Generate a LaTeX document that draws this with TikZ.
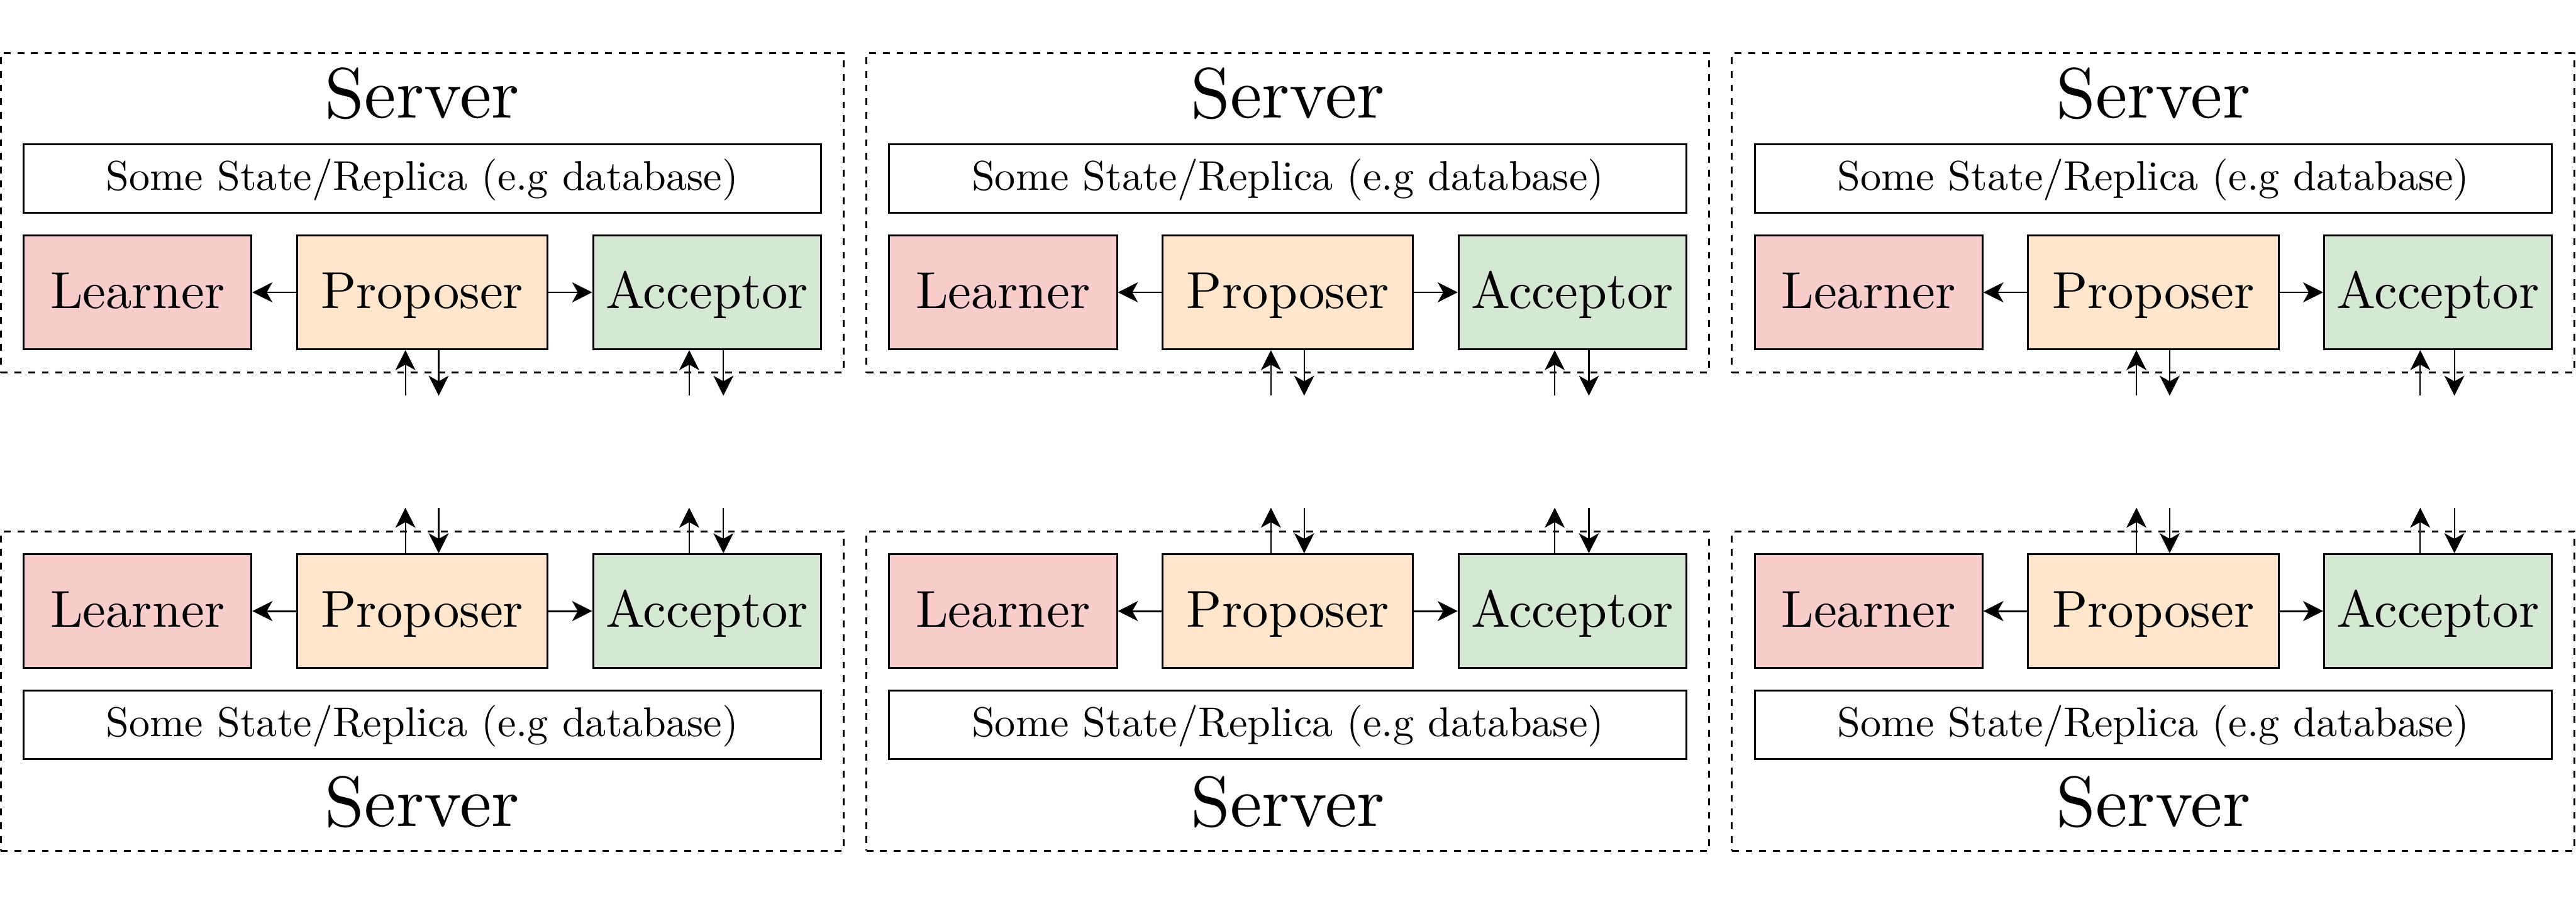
\documentclass[tikz,border=0pt]{standalone}
\usepackage{fontspec}
\setmainfont{lmroman10-regular.otf}
\usetikzlibrary{arrows.meta,positioning}
\definecolor{learnerred}{HTML}{F8CECC}
\definecolor{proposerorange}{HTML}{FFE6CC}
\definecolor{acceptorgreen}{HTML}{D5E8D4}

\begin{document}
\begin{tikzpicture}[>={Stealth[length=12.5pt,width=12.5pt,inset=3.5pt]},node distance=6.25cm,on grid]
\tikzset{role/.style={draw,line width=1.15pt,minimum width=5cm,minimum height=2.5cm,inner sep=0pt,text height=0.95cm,text depth=0.24cm,font=\fontsize{32.5}{36}\selectfont}}
\tikzset{replica/.style={draw,line width=1.15pt,minimum width=17.5cm,minimum height=1.51cm,inner sep=0pt,text height=0.7cm,text depth=0.19cm,font=\fontsize{26}{30}\selectfont}}
\tikzset{serverbox/.style={draw,dash pattern=on 0.15cm off 0.15cm,line width=1.15pt,minimum width=18.5cm,minimum height=7.01cm,inner sep=0pt}}
\tikzset{servertitle/.style={inner sep=0pt,font=\fontsize{44.5}{50}\selectfont}}
\tikzset{mystyle/.style={->,line width=1.15pt}}
\tikzset{iostyle/.style={->,line width=0.9pt}}
\useasboundingbox (0,0) rectangle (56.55,-19.85);
\foreach \i in {0,1,2} {
  \node[role,fill=proposerorange,minimum width=5.5cm] (Pt\i) at (19*\i+9.27,-6.42) {Proposer};
  \node[role,fill=learnerred]     (Lt\i) [left =of Pt\i]        {Learner};
  \node[role,fill=acceptorgreen]  (At\i) [right =of Pt\i]       {Acceptor};
  \node[replica]                  (Rt\i) [above =2.5cm of Pt\i] {Some State/Replica (e.g database)};
  \node[servertitle]              (Tt\i) [above =1.86cm of Rt\i] {Server};
  \node[serverbox]                (St\i) at (19*\i+9.27,-4.675) {};
  \node[role,fill=proposerorange,minimum width=5.5cm] (Pb\i) at (19*\i+9.27,-13.42) {Proposer};
  \node[role,fill=learnerred]     (Lb\i) [left =of Pb\i]        {Learner};
  \node[role,fill=acceptorgreen]  (Ab\i) [right =of Pb\i]       {Acceptor};
  \node[replica]                  (Rb\i) [below =2.5cm of Pb\i] {Some State/Replica (e.g database)};
  \node[servertitle]              (Tb\i) [below =1.69cm of Rb\i] {Server};
  \node[serverbox]                (Sb\i) at (19*\i+9.27,-15.175) {};
  \path (Pt\i) edge [mystyle] (Lt\i)
        (Pt\i) edge [mystyle] (At\i)
        (Pb\i) edge [mystyle] (Lb\i)
        (Pb\i) edge [mystyle] (Ab\i);
  \coordinate (ptin\i)  at ([xshift=-3.7mm,yshift=-1cm]Pt\i.south);
  \coordinate (ptout\i) at ([xshift=3.6mm,yshift=-1cm]Pt\i.south);
  \coordinate (atin\i)  at ([xshift=-3.9mm,yshift=-1cm]At\i.south);
  \coordinate (atout\i) at ([xshift=3.6mm,yshift=-1cm]At\i.south);
  \coordinate (pbout\i) at ([xshift=-3.7mm,yshift=1cm]Pb\i.north);
  \coordinate (pbin\i)  at ([xshift=3.6mm,yshift=1cm]Pb\i.north);
  \coordinate (about\i) at ([xshift=-3.9mm,yshift=1cm]Ab\i.north);
  \coordinate (abin\i)  at ([xshift=3.6mm,yshift=1cm]Ab\i.north);
  \draw[iostyle] (ptin\i) -- (ptin\i |- Pt\i.south);
  \draw[iostyle] (ptout\i |- Pt\i.south) -- (ptout\i);
  \draw[iostyle] (atin\i) -- (atin\i |- At\i.south);
  \draw[iostyle] (atout\i |- At\i.south) -- (atout\i);
  \draw[iostyle] (pbout\i |- Pb\i.north) -- (pbout\i);
  \draw[iostyle] (pbin\i) -- (pbin\i |- Pb\i.north);
  \draw[iostyle] (about\i |- Ab\i.north) -- (about\i);
  \draw[iostyle] (abin\i) -- (abin\i |- Ab\i.north);
}
\end{tikzpicture}
\end{document}
